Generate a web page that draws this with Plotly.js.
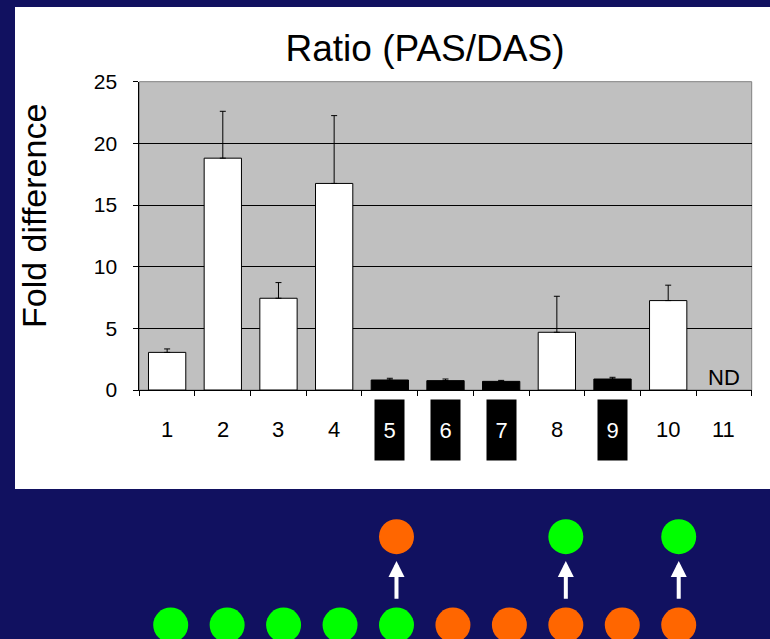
<!DOCTYPE html>
<html>
<head>
<meta charset="utf-8">
<script src="https://cdn.plot.ly/plotly-3.0.1.min.js"></script>
<style>html,body{margin:0;padding:0;background:#111160;}</style>
</head>
<body>
<div id="chart" style="width:770px;height:639px;"></div>
<script>
// ---- data ----
const categories = ['1','2','3','4','5','6','7','8','9','10','11'];
const ratio      = [3.05, 18.8, 7.44, 16.75, 0.81, 0.76, 0.70, 4.68, 0.89, 7.25, null];
const errorUp    = [0.28, 3.80, 1.27, 5.50, 0.14, 0.13, 0.08, 2.92, 0.14, 1.25, null];
const highlighted = ['5','6','7','9'];
const notDetected = ['11'];
const bottomRow = ['green','green','green','green','green','orange','orange','orange','orange','orange'];
const changedAt = [5, 8, 10];
const changedTo = ['orange','green','green'];

// ---- styling ----
const NAVY = '#111160';
const dotColor = {green: '#00FF00', orange: '#FF6600'};
const FONT = 'Liberation Sans, Arial, sans-serif';
const W = 770, H = 639;

const isHi = c => highlighted.includes(c);

const bars = {
  type: 'bar',
  x: categories,
  y: ratio,
  marker: {
    color: categories.map(c => isHi(c) ? '#000000' : '#FFFFFF'),
    line: {color: '#000000', width: 1}
  },
  error_y: {
    type: 'data', symmetric: false,
    array: errorUp,
    arrayminus: errorUp.map(() => 0),
    color: '#000000', thickness: 1, width: 3
  },
  xaxis: 'x', yaxis: 'y',
  hoverinfo: 'x+y'
};

const dotX = [], dotY = [], dotC = [];
bottomRow.forEach((g, i) => { dotX.push(i + 1); dotY.push(0); dotC.push(dotColor[g]); });
changedAt.forEach((k, i) => { dotX.push(k); dotY.push(1); dotC.push(dotColor[changedTo[i]]); });

const dots = {
  type: 'scatter', mode: 'markers',
  x: dotX, y: dotY,
  marker: {size: 35, color: dotC, line: {width: 0}},
  xaxis: 'x2', yaxis: 'y2',
  hoverinfo: 'skip'
};

// x tick labels (boxed for highlighted lines); category axis -> index positions
const labelAnns = categories.map((c, i) => ({
  xref: 'x', yref: 'paper',
  x: i, y: 1 - 429.5 / H,
  xanchor: 'center', yanchor: 'middle',
  text: c,
  showarrow: false,
  width: isHi(c) ? 29 : null,
  height: isHi(c) ? 60 : null,
  bgcolor: isHi(c) ? '#000000' : 'rgba(0,0,0,0)',
  borderpad: 0,
  font: {family: FONT, size: 22, color: isHi(c) ? '#FFFFFF' : '#000000'}
}));

const ndAnns = notDetected.map(c => ({
  xref: 'x', yref: 'y', x: categories.indexOf(c), y: 0,
  yanchor: 'bottom', xanchor: 'center',
  text: 'ND', showarrow: false, yshift: -2,
  font: {family: FONT, size: 22, color: '#000000'}
}));

const arrowAnns = changedAt.map(k => ({
  xref: 'x2', yref: 'y2', axref: 'x2', ayref: 'y2',
  x: k, y: 0.725, ax: k, ay: 0.28,
  text: '', showarrow: true,
  arrowhead: 2, arrowsize: 0.8, arrowwidth: 4, arrowcolor: '#FFFFFF',
  standoff: 0, startstandoff: 0
}));

const yTitle = {
  xref: 'paper', yref: 'paper',
  x: 33.5 / W, y: 1 - 216.5 / H,
  xanchor: 'center', yanchor: 'middle',
  text: 'Fold difference', textangle: -90, showarrow: false,
  font: {family: FONT, size: 34, color: '#000000'}
};

const layout = {
  width: W, height: H, autosize: false,
  margin: {l: 0, r: 0, t: 0, b: 0, pad: 0},
  paper_bgcolor: NAVY,
  plot_bgcolor: 'rgba(0,0,0,0)',
  showlegend: false,
  bargap: 0.33,
  title: {
    text: 'Ratio (PAS/DAS)',
    font: {family: FONT, size: 37, color: '#000000'},
    x: 425 / W, xanchor: 'center', xref: 'paper',
    y: 1 - 48.5 / H, yanchor: 'middle', yref: 'paper'
  },
  xaxis: {
    domain: [139.3 / W, 751.7 / W],
    type: 'category', range: [-0.5, 10.5],
    ticks: 'outside', tickson: 'boundaries', ticklen: 5, tickcolor: '#000000', tickwidth: 1,
    showline: true, linecolor: '#000000', linewidth: 1,
    showgrid: false, zeroline: false, showticklabels: false,
    fixedrange: true, anchor: 'y'
  },
  yaxis: {
    domain: [(H - 390) / H, (H - 81.7) / H],
    range: [0, 25], dtick: 5, tick0: 0,
    ticks: 'outside', ticklen: 5, tickcolor: '#000000', tickwidth: 1,
    ticklabelstandoff: 12,
    showline: true, linecolor: '#000000', linewidth: 1,
    showgrid: true, gridcolor: '#000000', gridwidth: 1,
    zeroline: false,
    tickfont: {family: FONT, size: 21, color: '#000000'},
    fixedrange: true, anchor: 'x'
  },
  xaxis2: {domain: [0, 1], range: [-2.024, 11.617], visible: false, anchor: 'y2', fixedrange: true},
  yaxis2: {domain: [0, 150 / H], range: [-0.1585, 1.54], visible: false, anchor: 'x2', fixedrange: true},
  shapes: [
    {type: 'rect', xref: 'paper', yref: 'paper', layer: 'below',
     x0: 15 / W, x1: 1, y0: (H - 489) / H, y1: (H - 7) / H,
     fillcolor: '#FFFFFF', line: {width: 0}},
    {type: 'rect', xref: 'x domain', yref: 'y domain', layer: 'below',
     x0: 0, x1: 1, y0: 0, y1: 1,
     fillcolor: '#C0C0C0', line: {color: '#808080', width: 1}}
  ],
  annotations: [...labelAnns, ...ndAnns, ...arrowAnns, yTitle]
};

Plotly.newPlot('chart', [bars, dots], layout, {displayModeBar: false, staticPlot: true});
</script>
</body>
</html>
